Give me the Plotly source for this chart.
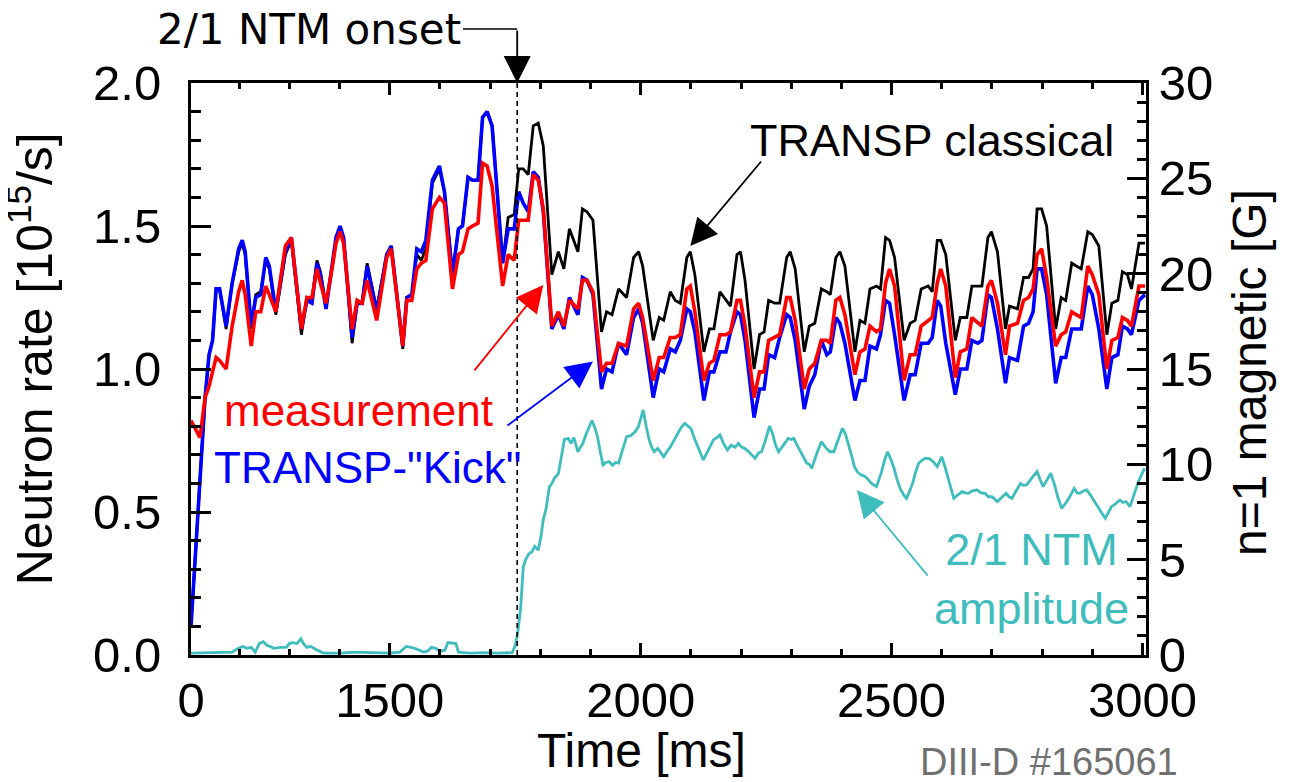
import plotly.graph_objects as go

# ---------------- data ----------------
# common time base of the neutron-rate traces [ms]
time_ms = [1104, 1113, 1122, 1132, 1140, 1147, 1154, 1161, 1174, 1186,
           1199, 1206, 1212, 1224, 1233, 1243, 1253, 1260, 1273, 1292,
           1304, 1324, 1335, 1345, 1355, 1362, 1373, 1385, 1393, 1401,
           1408, 1425, 1435, 1445, 1455, 1474, 1494, 1503, 1526, 1534,
           1544, 1554, 1563, 1572, 1585, 1599, 1609, 1625, 1637, 1645,
           1656, 1665, 1676, 1685, 1694, 1704, 1725, 1736, 1748, 1757,
           1766, 1776, 1786, 1796, 1806, 1823, 1836, 1847, 1858, 1875,
           1884, 1893, 1905, 1922, 1932, 1943, 1956, 1972, 1986, 1996,
           2004, 2025, 2037, 2046, 2059, 2069, 2079, 2092, 2099, 2108,
           2126, 2137, 2146, 2158, 2170, 2179, 2192, 2199, 2208, 2226,
           2237, 2246, 2255, 2267, 2277, 2291, 2298, 2308, 2326, 2336,
           2347, 2360, 2371, 2378, 2389, 2397, 2407, 2427, 2437, 2447,
           2457, 2470, 2478, 2488, 2496, 2506, 2525, 2537, 2547, 2559,
           2573, 2581, 2591, 2598, 2608, 2627, 2637, 2650, 2660, 2672,
           2680, 2692, 2699, 2711, 2727, 2735, 2751, 2763, 2773, 2782,
           2790, 2799, 2809, 2827, 2838, 2847, 2859, 2868, 2878, 2891,
           2900, 2913, 2929, 2939, 2951, 2960, 2970, 2978, 2993, 3005]

# TRANSP-"Kick" [1e15/s]
kick = [0.10, 0.35, 0.62, 0.90, 1.05, 1.10, 1.28, 1.28, 1.15, 1.30,
        1.42, 1.45, 1.41, 1.15, 1.25, 1.26, 1.39, 1.36, 1.20, 1.41,
        1.46, 1.14, 1.24, 1.23, 1.37, 1.33, 1.21, 1.36, 1.46, 1.50,
        1.46, 1.11, 1.23, 1.23, 1.36, 1.20, 1.40, 1.43, 1.08, 1.25,
        1.26, 1.42, 1.41, 1.45, 1.66, 1.71, 1.62, 1.33, 1.49, 1.50,
        1.67, 1.66, 1.66, 1.88, 1.90, 1.85, 1.37, 1.49, 1.49, 1.62,
        1.58, 1.55, 1.69, 1.67, 1.55, 1.14, 1.19, 1.14, 1.25, 1.19,
        1.32, 1.31, 1.26, 0.93, 1.00, 0.99, 1.09, 1.05, 1.18, 1.21,
        1.16, 0.90, 1.00, 0.99, 1.07, 1.06, 1.10, 1.21, 1.20, 1.13,
        0.89, 0.99, 0.99, 1.06, 1.06, 1.13, 1.20, 1.19, 1.10, 0.83,
        0.93, 0.93, 1.05, 1.04, 1.11, 1.19, 1.18, 1.10, 0.86, 0.94,
        0.98, 1.10, 1.05, 1.06, 1.18, 1.16, 1.09, 0.89, 0.96, 0.96,
        1.08, 1.07, 1.12, 1.24, 1.23, 1.12, 0.89, 0.98, 0.98, 1.09,
        1.09, 1.11, 1.24, 1.22, 1.09, 0.91, 1.00, 1.00, 1.10, 1.09,
        1.10, 1.26, 1.25, 1.14, 0.95, 1.04, 1.03, 1.15, 1.16, 1.20,
        1.35, 1.35, 1.26, 0.95, 1.04, 1.04, 1.14, 1.14, 1.14, 1.29,
        1.26, 1.14, 0.93, 1.04, 1.05, 1.15, 1.14, 1.12, 1.24, 1.26]

# TRANSP classical [1e15/s]
classical = [0.10, 0.35, 0.62, 0.90, 1.05, 1.10, 1.28, 1.28, 1.14, 1.30,
             1.41, 1.44, 1.40, 1.14, 1.26, 1.27, 1.38, 1.35, 1.19, 1.40,
             1.45, 1.12, 1.25, 1.24, 1.38, 1.34, 1.22, 1.36, 1.45, 1.49,
             1.46, 1.09, 1.23, 1.23, 1.37, 1.21, 1.40, 1.43, 1.07, 1.25,
             1.26, 1.40, 1.38, 1.42, 1.65, 1.70, 1.62, 1.33, 1.49, 1.50,
             1.67, 1.66, 1.66, 1.88, 1.90, 1.85, 1.37, 1.53, 1.54, 1.70,
             1.70, 1.68, 1.85, 1.86, 1.78, 1.33, 1.41, 1.35, 1.49, 1.41,
             1.56, 1.55, 1.52, 1.13, 1.20, 1.19, 1.28, 1.25, 1.39, 1.41,
             1.36, 1.10, 1.18, 1.17, 1.27, 1.24, 1.23, 1.39, 1.41, 1.33,
             1.06, 1.14, 1.14, 1.27, 1.24, 1.22, 1.40, 1.41, 1.31, 1.00,
             1.12, 1.13, 1.24, 1.23, 1.23, 1.39, 1.41, 1.35, 1.06, 1.15,
             1.16, 1.28, 1.27, 1.26, 1.39, 1.41, 1.36, 1.06, 1.17, 1.16,
             1.28, 1.29, 1.28, 1.46, 1.45, 1.39, 1.10, 1.16, 1.17, 1.28,
             1.29, 1.27, 1.45, 1.45, 1.40, 1.10, 1.18, 1.18, 1.29, 1.29,
             1.29, 1.46, 1.48, 1.41, 1.14, 1.22, 1.21, 1.32, 1.32, 1.35,
             1.56, 1.56, 1.50, 1.14, 1.25, 1.24, 1.37, 1.36, 1.35, 1.48,
             1.47, 1.43, 1.12, 1.23, 1.24, 1.34, 1.33, 1.28, 1.44, 1.44]

# measurement [1e15/s]
measured = [0.82, 0.79, 0.76, 0.90, 0.94, 0.99, 1.04, 1.03, 1.00, 1.15,
            1.27, 1.31, 1.26, 1.08, 1.20, 1.20, 1.29, 1.26, 1.20, 1.43,
            1.46, 1.14, 1.25, 1.25, 1.35, 1.30, 1.23, 1.35, 1.44, 1.48,
            1.44, 1.14, 1.24, 1.23, 1.31, 1.17, 1.39, 1.42, 1.08, 1.24,
            1.24, 1.35, 1.37, 1.38, 1.56, 1.60, 1.58, 1.28, 1.40, 1.41,
            1.49, 1.50, 1.51, 1.72, 1.71, 1.64, 1.29, 1.40, 1.38, 1.52,
            1.52, 1.52, 1.68, 1.66, 1.56, 1.15, 1.20, 1.15, 1.24, 1.21,
            1.31, 1.31, 1.27, 0.99, 1.02, 1.02, 1.09, 1.08, 1.21, 1.23,
            1.18, 0.96, 1.04, 1.04, 1.11, 1.11, 1.12, 1.28, 1.29, 1.20,
            0.96, 1.02, 1.03, 1.12, 1.12, 1.13, 1.24, 1.24, 1.15, 0.90,
            0.99, 0.99, 1.10, 1.11, 1.12, 1.25, 1.25, 1.17, 0.93, 1.00,
            1.02, 1.10, 1.10, 1.09, 1.24, 1.25, 1.19, 0.98, 1.06, 1.07,
            1.15, 1.13, 1.14, 1.30, 1.35, 1.29, 0.96, 1.05, 1.05, 1.15,
            1.17, 1.18, 1.30, 1.35, 1.29, 0.97, 1.06, 1.07, 1.18, 1.16,
            1.15, 1.29, 1.31, 1.23, 1.05, 1.15, 1.16, 1.24, 1.25, 1.28,
            1.40, 1.42, 1.32, 1.08, 1.12, 1.13, 1.20, 1.19, 1.18, 1.36,
            1.33, 1.26, 1.00, 1.10, 1.11, 1.18, 1.17, 1.15, 1.29, 1.29]

# 2/1 NTM amplitude (n=1 magnetic) [G]
ntm_time = [1104, 1150, 1186, 1195, 1207, 1216, 1224, 1232, 1240, 1248,
            1256, 1262, 1269, 1282, 1294, 1300, 1306, 1315, 1323, 1328,
            1335, 1343, 1352, 1368, 1401, 1430, 1467, 1500, 1520, 1533,
            1542, 1550, 1567, 1575, 1583, 1592, 1600, 1610, 1616, 1625,
            1632, 1637, 1660, 1690, 1715, 1744, 1750, 1755, 1761, 1766,
            1771, 1777, 1783, 1789, 1796, 1802, 1806, 1811, 1818, 1823,
            1829, 1836, 1842, 1848, 1856, 1861, 1867, 1875, 1880, 1885,
            1890, 1897, 1903, 1909, 1914, 1920, 1925, 1931, 1937, 1944,
            1950, 1956, 1963, 1972, 1980, 1989, 1996, 2005, 2011, 2017,
            2022, 2027, 2034, 2040, 2046, 2053, 2059, 2065, 2072, 2080,
            2088, 2094, 2100, 2108, 2116, 2125, 2132, 2139, 2145, 2152,
            2158, 2165, 2173, 2180, 2188, 2195, 2201, 2207, 2214, 2221,
            2228, 2235, 2241, 2248, 2257, 2263, 2269, 2275, 2284, 2294,
            2300, 2305, 2312, 2319, 2325, 2331, 2336, 2341, 2350, 2360,
            2368, 2377, 2385, 2394, 2402, 2408, 2414, 2420, 2426, 2432,
            2439, 2445, 2451, 2460, 2470, 2480, 2487, 2492, 2498, 2505,
            2511, 2517, 2524, 2530, 2536, 2542, 2548, 2554, 2560, 2567,
            2575, 2583, 2591, 2600, 2606, 2612, 2618, 2624, 2632, 2641,
            2647, 2653, 2660, 2670, 2678, 2686, 2693, 2700, 2711, 2720,
            2728, 2734, 2740, 2748, 2757, 2763, 2769, 2780, 2790, 2796,
            2802, 2810, 2817, 2824, 2831, 2839, 2847, 2855, 2864, 2870,
            2875, 2882, 2889, 2896, 2905, 2914, 2920, 2926, 2932, 2938,
            2945, 2955, 2961, 2967, 2975, 2983, 2992, 3004]
ntm_amp = [0.10, 0.12, 0.15, 0.30, 0.45, 0.35, 0.40, 0.15, 0.60, 0.70,
           0.50, 0.45, 0.35, 0.40, 0.40, 0.60, 0.65, 0.60, 0.85, 0.60,
           0.40, 0.45, 0.30, 0.10, 0.10, 0.15, 0.12, 0.10, 0.15, 0.45,
           0.40, 0.35, 0.15, 0.20, 0.40, 0.35, 0.20, 0.25, 0.65, 0.60,
           0.60, 0.15, 0.10, 0.12, 0.10, 0.12, 0.50, 1.15, 2.50, 4.60,
           5.00, 5.30, 5.40, 5.70, 5.50, 6.30, 7.10, 7.60, 8.80, 9.00,
           9.30, 9.50, 10.4, 11.3, 11.36, 11.1, 11.4, 10.66, 10.9, 11.1,
           11.5, 11.9, 12.3, 11.9, 11.45, 10.6, 9.97, 10.1, 10.14, 9.95,
           10.1, 10.06, 10.7, 11.45, 11.5, 11.71, 12.0, 12.85, 12.0, 11.28,
           10.9, 10.66, 10.84, 10.6, 10.4, 10.7, 10.9, 11.19, 11.5, 11.9,
           12.15, 12.0, 11.89, 11.3, 10.8, 10.23, 10.6, 11.0, 11.28, 11.4,
           11.54, 11.1, 10.75, 11.0, 10.9, 11.1, 10.9, 10.84, 10.7, 10.5,
           10.32, 10.6, 10.66, 11.2, 12.01, 11.6, 11.0, 10.66, 11.0, 11.36,
           11.3, 11.36, 11.0, 10.66, 10.4, 10.06, 10.0, 9.79, 10.5, 11.19,
           10.9, 10.66, 10.66, 11.3, 11.89, 11.6, 11.1, 10.5, 9.88, 9.6,
           9.44, 9.40, 9.27, 9.00, 8.83, 9.60, 10.3, 10.66, 10.3, 9.79,
           9.20, 8.74, 8.40, 8.22, 8.60, 9.00, 9.60, 10.06, 10.2, 10.32,
           10.3, 10.14, 9.88, 10.4, 9.90, 9.36, 8.80, 8.22, 8.40, 8.57,
           8.50, 8.48, 8.60, 8.66, 8.50, 8.48, 8.30, 8.30, 8.05, 8.30,
           8.48, 8.30, 8.22, 8.60, 9.00, 8.90, 8.92, 9.30, 9.62, 9.20,
           8.83, 9.20, 9.53, 9.00, 8.30, 7.69, 7.96, 8.30, 8.74, 8.50,
           8.48, 8.60, 8.66, 8.40, 8.00, 7.61, 7.40, 7.17, 7.50, 7.78,
           7.90, 8.13, 8.00, 8.05, 7.78, 8.40, 9.10, 9.79]

onset_ms = 1754
x_range = [1104, 3007]
x_tickvals = [1104, 1500, 2000, 2500, 3000]
x_ticktext = ["0", "1500", "2000", "2500", "3000"]

# ---------------- styling ----------------
SANS = "Liberation Sans, Arial, Helvetica, sans-serif"
TEAL = "#3fbdbd"
RED = "#ff0000"
BLUE = "#0000ff"

fig = go.Figure()
fig.add_trace(go.Scatter(x=time_ms, y=classical, mode="lines",
                         line=dict(color="black", width=2.8), name="TRANSP classical"))
fig.add_trace(go.Scatter(x=time_ms, y=kick, mode="lines",
                         line=dict(color=BLUE, width=3.6), name='TRANSP-"Kick"'))
fig.add_trace(go.Scatter(x=time_ms, y=measured, mode="lines",
                         line=dict(color=RED, width=3.6), name="measurement"))
fig.add_trace(go.Scatter(x=ntm_time, y=ntm_amp, mode="lines", yaxis="y2",
                         line=dict(color=TEAL, width=2.8), name="2/1 NTM amplitude"))

# page geometry (the page body adds an 8 px offset to the figure)
OFF = 8
PL, PR, PT, PB = 190.7, 1146.0, 83.0, 655.0     # plot area on the page
W, H = PR - PL, PB - PT


def px(xp):
    return (xp - PL) / W


def py(yp):
    return (PB - yp) / H


tickfont = dict(family=SANS, size=49, color="black")

fig.update_layout(
    width=1289, height=782,
    margin=dict(l=PL - OFF, r=1289 - (PR - OFF), t=PT - OFF, b=782 - (PB - OFF), pad=0),
    paper_bgcolor="white", plot_bgcolor="white",
    showlegend=False,
    xaxis=dict(range=x_range, tickvals=x_tickvals, ticktext=x_ticktext,
               ticks="inside", ticklen=12, tickwidth=2.5, tickcolor="black",
               minor=dict(tick0=1000, dtick=100, ticks="inside", ticklen=6,
                          tickwidth=2.5, tickcolor="black"),
               showline=True, linewidth=3, linecolor="black", mirror="ticks",
               showgrid=False, zeroline=False, tickfont=tickfont,
               ticklabelstandoff=0),
    yaxis=dict(range=[0, 2.0], tickvals=[0, 0.5, 1.0, 1.5, 2.0],
               ticktext=["0.0", "0.5", "1.0", "1.5", "2.0"],
               ticks="inside", ticklen=20, tickwidth=2.5, tickcolor="black",
               minor=dict(dtick=0.1, ticks="inside", ticklen=10, tickwidth=2.5,
                          tickcolor="black"),
               showline=True, linewidth=3, linecolor="black", mirror=False,
               showgrid=False, zeroline=False, tickfont=tickfont,
               ticklabelstandoff=17),
    yaxis2=dict(range=[0, 30], overlaying="y", side="right",
                tickvals=[0, 5, 10, 15, 20, 25, 30],
                ticks="inside", ticklen=19, tickwidth=2.5, tickcolor="black",
                minor=dict(dtick=1, ticks="inside", ticklen=9, tickwidth=2.5,
                           tickcolor="black"),
                showline=True, linewidth=3, linecolor="black",
                showgrid=False, zeroline=False, tickfont=tickfont,
                ticklabelstandoff=0),
)

# onset dashed line
fig.add_shape(type="line", xref="x", yref="paper", x0=onset_ms, x1=onset_ms,
              y0=0, y1=1, line=dict(color="black", width=1.6, dash="5px,4px"))
# bent leader of the onset label
fig.add_shape(type="line", xref="x", yref="paper", x0=onset_ms - 108, x1=onset_ms,
              y0=py(29), y1=py(29), line=dict(color="black", width=1.6))

ARW = dict(showarrow=True, arrowhead=2, arrowsize=3.0, arrowwidth=1.8, text="")

ann = []
# onset label and arrow
ann.append(dict(xref="paper", yref="paper", x=px(463), y=py(29), xanchor="right",
                yanchor="middle", text="2/1 NTM onset", showarrow=False,
                font=dict(family="DejaVu Sans", size=42, color="black")))
ann.append(dict(xref="x", yref="paper", x=onset_ms, y=1.0, ax=0, ay=-54,
                arrowcolor="black", **ARW))

# TRANSP classical
ann.append(dict(xref="paper", yref="paper", x=px(932), y=py(141), xanchor="center",
                yanchor="middle", text="TRANSP classical", showarrow=False,
                font=dict(family=SANS, size=45, color="black")))
ann.append(dict(xref="x", yref="y", x=2099, y=1.43, ax=72, ay=-86,
                arrowcolor="black", **ARW))

# measurement
ann.append(dict(xref="paper", yref="paper", x=px(358), y=py(410), xanchor="center",
                yanchor="middle", text="measurement", showarrow=False,
                font=dict(family=SANS, size=44, color=RED)))
ann.append(dict(xref="x", yref="y", x=1806, y=1.294, ax=-70, ay=87,
                arrowcolor=RED, **ARW))

# TRANSP-"Kick"
ann.append(dict(xref="paper", yref="paper", x=px(367), y=py(467), xanchor="center",
                yanchor="middle", text='TRANSP-"Kick"', showarrow=False,
                font=dict(family=SANS, size=44, color=BLUE)))
ann.append(dict(xref="x", yref="y", x=1905, y=1.026, ax=-87, ay=65,
                arrowcolor=BLUE, **ARW))

# 2/1 NTM amplitude
ann.append(dict(xref="paper", yref="paper", x=px(1031), y=py(579), xanchor="center",
                yanchor="middle", text="2/1 NTM<br>amplitude", showarrow=False,
                font=dict(family=SANS, size=45, color=TEAL)))
ann.append(dict(xref="x", yref="y2", x=2431, y=8.65, ax=72, ay=87,
                arrowcolor=TEAL, **ARW))

# axis titles
ann.append(dict(xref="paper", yref="paper", x=px(641), y=py(750), xanchor="center",
                yanchor="middle", text="Time [ms]", showarrow=False,
                font=dict(family=SANS, size=48, color="black")))
ann.append(dict(xref="paper", yref="paper", x=px(31), y=py(359), xanchor="center",
                yanchor="middle", textangle=-90,
                text="Neutron rate [10<sup>15</sup>/s]", showarrow=False,
                font=dict(family=SANS, size=50, color="black")))
ann.append(dict(xref="paper", yref="paper", x=px(1249), y=py(372), xanchor="center",
                yanchor="middle", textangle=-90,
                text="n=1 magnetic [G]", showarrow=False,
                font=dict(family=SANS, size=48, color="black")))
# shot label
ann.append(dict(xref="paper", yref="paper", x=px(1049), y=py(762), xanchor="center",
                yanchor="middle", text="DIII-D #165061", showarrow=False,
                font=dict(family=SANS, size=38, color="#707070")))

fig.update_layout(annotations=ann)
fig.write_html("out.html")
